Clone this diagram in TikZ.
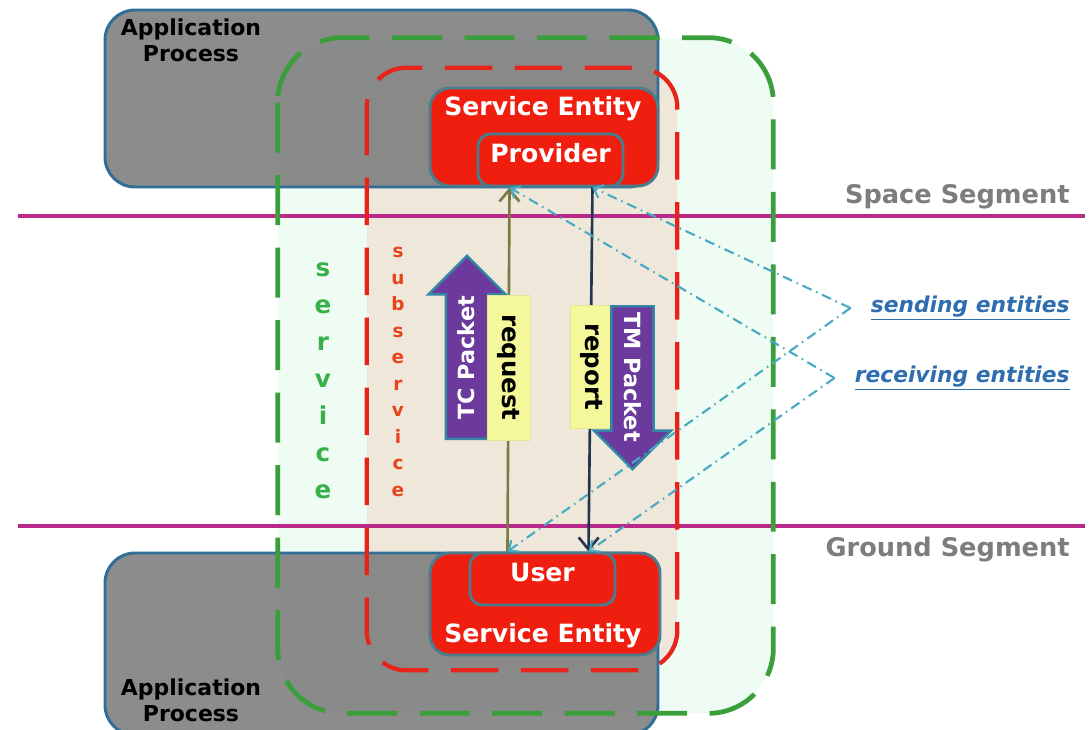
\documentclass[tikz,border=0pt]{standalone}
\usepackage{fontspec}
\setmainfont{DejaVu Sans}
\usepackage{tikz}
\usetikzlibrary{arrows.meta,shapes.arrows,calc,positioning}
\usepackage{xcolor}
\newcommand{\myunit}{0.02cm}
\definecolor{appgray}{HTML}{7F7F7F}
\definecolor{appblue}{HTML}{2F6E96}
\definecolor{svcgreen}{HTML}{3A9E3A}
\definecolor{svcmint}{HTML}{EEFCF3}
\definecolor{subred}{HTML}{E8231A}
\definecolor{subbeige}{HTML}{EFE7DA}
\definecolor{sered}{HTML}{F01E0E}
\definecolor{seedge}{HTML}{4B7C8E}
\definecolor{segmag}{HTML}{B8298A}
\definecolor{pktpurple}{HTML}{6B3A9C}
\definecolor{pktedge}{HTML}{3386A6}
\definecolor{msgyellow}{HTML}{F4F89A}
\definecolor{reqolive}{HTML}{7A7A42}
\definecolor{rptnavy}{HTML}{22364F}
\definecolor{linkcyan}{HTML}{48A9C5}
\definecolor{labblue}{HTML}{2E6DAF}
\definecolor{seggray}{HTML}{7D7D7D}
\definecolor{svcletgreen}{HTML}{38B04A}
\definecolor{subletred}{HTML}{E8441C}
\tikzset{
    appsty/.style={rectangle, draw=appblue, line width=1.7pt, fill=appgray, fill opacity=0.9, rounded corners=0.6cm, inner sep=0pt},
    apptxtsty/.style={font=\fontsize{12.5}{14.7}\selectfont\bfseries, align=center, text=black, inner sep=0pt},
    svcfillsty/.style={rectangle, fill=svcmint, rounded corners=1.3cm, inner sep=0pt},
    subfillsty/.style={rectangle, fill=subbeige, rounded corners=0.8cm, inner sep=0pt},
    svclinesty/.style={draw=svcgreen, line width=2.7pt, dash pattern=on 1cm off 0.45cm, rounded corners=1.3cm},
    sublinesty/.style={draw=subred, line width=2.4pt, dash pattern=on 0.95cm off 0.45cm, rounded corners=0.8cm},
    seglinesty/.style={draw=segmag, line width=2.3pt},
    segtxtsty/.style={font=\fontsize{14.6}{16}\selectfont\bfseries, text=seggray, inner sep=0pt},
    sesty/.style={rectangle, draw=seedge, line width=1.7pt, fill=sered, rounded corners=0.4cm, inner sep=0pt},
    subsesty/.style={sesty, rounded corners=0.25cm, font=\fontsize{14.3}{16}\selectfont\bfseries, text=white, text height=10.5pt, text depth=8pt},
    setxtsty/.style={font=\fontsize{14.3}{16}\selectfont\bfseries, text=white, inner sep=0pt},
    pktsty/.style={single arrow, draw=pktedge, line width=1.4pt, fill=pktpurple, text=white, font=\fontsize{12.7}{14}\selectfont\bfseries, single arrow head extend=0.35cm, single arrow tip angle=90, single arrow head indent=0pt, inner sep=0pt, text height=15.9pt, text depth=6.8pt},
    msgsty/.style={rectangle, fill=msgyellow, draw=msgyellow!85!gray, line width=0.4pt, font=\fontsize{13.9}{15}\selectfont\bfseries, text=black, inner sep=0pt},
    reqsty/.style={draw=reqolive, line width=1.5pt, ->},
    rptsty/.style={draw=rptnavy, line width=1.5pt, ->},
    linksty/.style={draw=linkcyan, line width=1.2pt, dash pattern=on 0.2cm off 0.1cm on 0.03cm off 0.1cm, -{Straight Barb[length=1.6mm,width=2.8mm]}},
    labsty/.style={font=\fontsize{12.4}{14}\selectfont\bfseries\itshape, text=labblue, inner sep=0pt},
    svcletsty/.style={font=\fontsize{14}{21.1}\selectfont\bfseries, text=svcletgreen, align=center, inner sep=0pt},
    subletsty/.style={font=\fontsize{10.5}{15.1}\selectfont\bfseries, text=subletred, align=center, inner sep=0pt},
}

\begin{document}
\begin{tikzpicture}[>={Straight Barb[length=2.4mm,width=4mm]}, x=\myunit, y=-\myunit]
  \useasboundingbox (0,0) rectangle (1090,730);

  % service and subservice areas
  \node (svc) [svcfillsty, minimum width=495*\myunit, minimum height=675*\myunit] at (525.5,375.5) {};
  \node (sub) [subfillsty, minimum width=310*\myunit, minimum height=602*\myunit] at (522,369) {};

  % application processes
  \node (apptop) [appsty, minimum width=553*\myunit, minimum height=177*\myunit] at (381.5,98.5) {};
  \node (appbot) [appsty, minimum width=553*\myunit, minimum height=182*\myunit] at (381.5,644) {};
  \node (apptoptxt) [apptxtsty] at (191,40) {Application\\Process};
  \node (appbottxt) [apptxtsty] at (191,700) {Application\\Process};

  % segment borders
  \draw[seglinesty] (18,216) -- (1085,216);
  \draw[seglinesty] (18,526) -- (1085,526);
  \node (space) [segtxtsty, anchor=east] at (1070,197) {Space Segment};
  \node (ground) [segtxtsty, anchor=east] at (1070,550) {Ground Segment};

  \draw[svclinesty] (svc.north west) rectangle (svc.south east);
  \draw[sublinesty] (sub.north west) rectangle (sub.south east);
  \node (svctxt) [svcletsty] at (323,381) {s\\e\\r\\v\\i\\c\\e};
  \node (subtxt) [subletsty] at (398,372) {s\\u\\b\\s\\e\\r\\v\\i\\c\\e};

  % service entities
  \node (seprov) [sesty, minimum width=228*\myunit, minimum height=98*\myunit] at (544,137) {};
  \node (seprovtxt) [setxtsty] at (543,109) {Service Entity};
  \node (prov) [subsesty, minimum width=145*\myunit, minimum height=52*\myunit] at (550.5,160) {Provider};
  \node (seuser) [sesty, minimum width=230*\myunit, minimum height=102*\myunit] at (545,604) {};
  \node (seusertxt) [setxtsty] at (543,636) {Service Entity};
  \node (user) [subsesty, minimum width=145*\myunit, minimum height=52*\myunit] at (542.5,579) {User};

  \coordinate (prvL) at ([xshift=-41*\myunit]prov.south);
  \coordinate (prvR) at ([xshift=42*\myunit]prov.south);
  \coordinate (usrL) at ([xshift=-35*\myunit]user.north);
  \coordinate (usrR) at ([xshift=46*\myunit]user.north);

  % request / report
  \draw[reqsty] (usrL) -- (prvL);
  \draw[rptsty] (prvR) -- (usrR);
  \node (tcpkt) [pktsty, rotate=90, minimum height=183*\myunit, anchor=tail] at (467,440) {TC Packet};
  \node (req) [msgsty, rotate=-90, minimum width=145*\myunit, minimum height=43*\myunit] at (508.5,367.5) {request};
  \node (rpt) [msgsty, rotate=-90, minimum width=123*\myunit, minimum height=43*\myunit] at (591.5,366.5) {report};
  \node (tmpkt) [pktsty, rotate=-90, minimum height=163*\myunit, anchor=tail] at (632.5,305) {TM Packet};

  % entity labels
  \node (send) [labsty, anchor=east] at (1070,308) {\underline{sending entities}};
  \node (recv) [labsty, anchor=east] at (1070,378) {\underline{receiving entities}};
  \coordinate (sendv) at ([xshift=-20*\myunit]send.west);
  \coordinate (recvv) at ([xshift=-20*\myunit]recv.west);
  \draw[linksty] (sendv) -- (prvR);
  \draw[linksty] (sendv) -- (usrL);
  \draw[linksty] (recvv) -- (prvL);
  \draw[linksty] (recvv) -- (usrR);
\end{tikzpicture}
\end{document}
